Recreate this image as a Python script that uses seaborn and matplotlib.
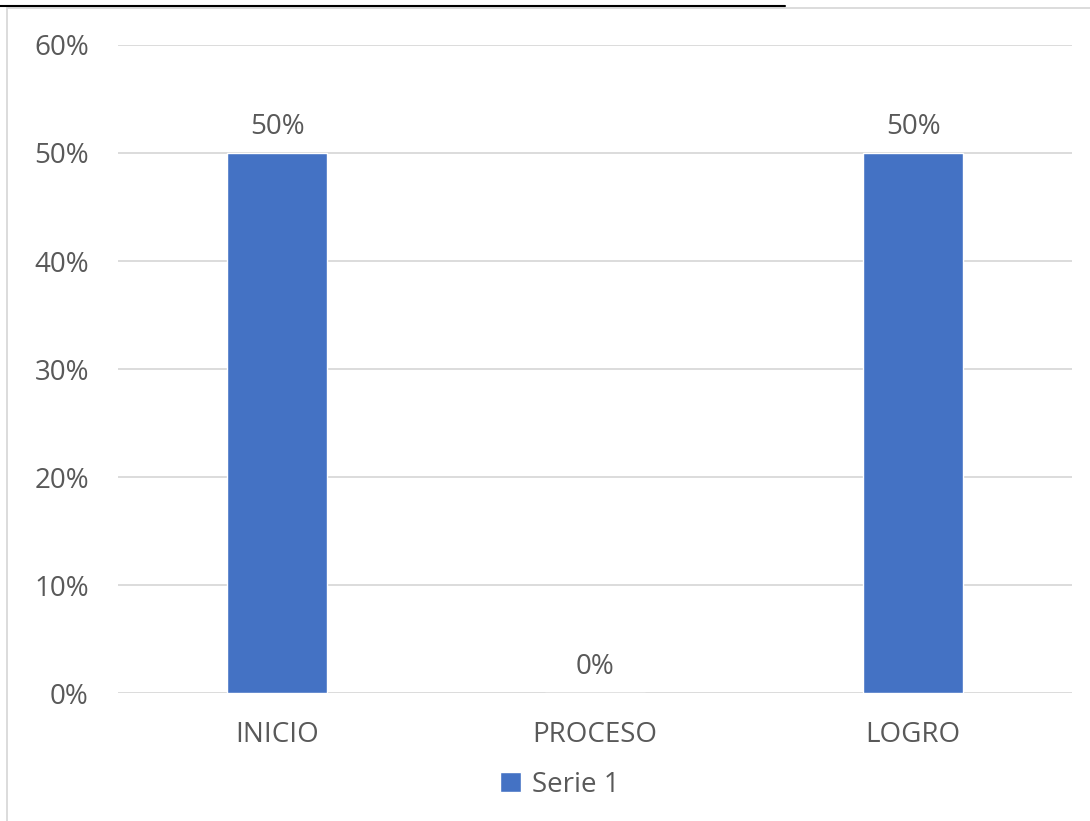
import matplotlib
matplotlib.use("Agg")
import matplotlib.pyplot as plt
import seaborn as sns
import pandas as pd
from matplotlib.lines import Line2D
from matplotlib.patches import Rectangle, Patch
from matplotlib.ticker import PercentFormatter, MultipleLocator

categories = ["INICIO", "PROCESO", "LOGRO"]
values = [0.50, 0.00, 0.50]
series_name = "Serie 1"

df = pd.DataFrame({"cat": categories, "val": values})

sns.set_style("white")
plt.rcParams["font.family"] = ["Open Sans", "DejaVu Sans"]
text_col = "#595959"
bar_col = "#4472C4"
fs = 20

fig = plt.figure(figsize=(10.9, 8.21), dpi=100)
ax = fig.add_axes([118 / 1090, 1 - 693 / 821, 954 / 1090, (693 - 45) / 821])

sns.barplot(data=df, x="cat", y="val", color=bar_col, width=0.315, saturation=1, ax=ax, zorder=3)

ax.set_ylim(0, 0.6)
ax.yaxis.set_major_locator(MultipleLocator(0.1))
ax.yaxis.set_major_formatter(PercentFormatter(1.0, decimals=0))
ax.grid(axis="y", color="#D9D9D9", lw=1.3, zorder=0)
ax.set_axisbelow(True)
for s in ax.spines.values():
    s.set_visible(False)
ax.tick_params(axis="both", length=0, labelsize=fs, colors=text_col)
ax.tick_params(axis="y", pad=21)
ax.tick_params(axis="x", pad=20)
ax.set_xlabel("")
ax.set_ylabel("")

for i, v in enumerate(values):
    ax.annotate(f"{v:.0%}", (i, v), xytext=(0, 9), textcoords="offset points",
                ha="center", va="bottom", fontsize=fs, color=text_col)

leg = fig.legend(handles=[Patch(facecolor=bar_col, label=series_name)],
                 loc="center", bbox_to_anchor=(560 / 1090, 1 - 785 / 821),
                 frameon=False, fontsize=fs, labelcolor=text_col,
                 handlelength=0.75, handleheight=0.75, handletextpad=0.4)

# chart frame and top rule
fig.add_artist(Rectangle((7 / 1090, -0.01), 1.1, 1 - 8 / 821 + 0.01, transform=fig.transFigure,
                         fill=False, edgecolor="#D9D9D9", lw=1.3))
fig.add_artist(Line2D([0, 785 / 1090], [1 - 6 / 821, 1 - 6 / 821], transform=fig.transFigure,
                      color="black", lw=1.5))

fig.savefig("out.png", dpi=100)
